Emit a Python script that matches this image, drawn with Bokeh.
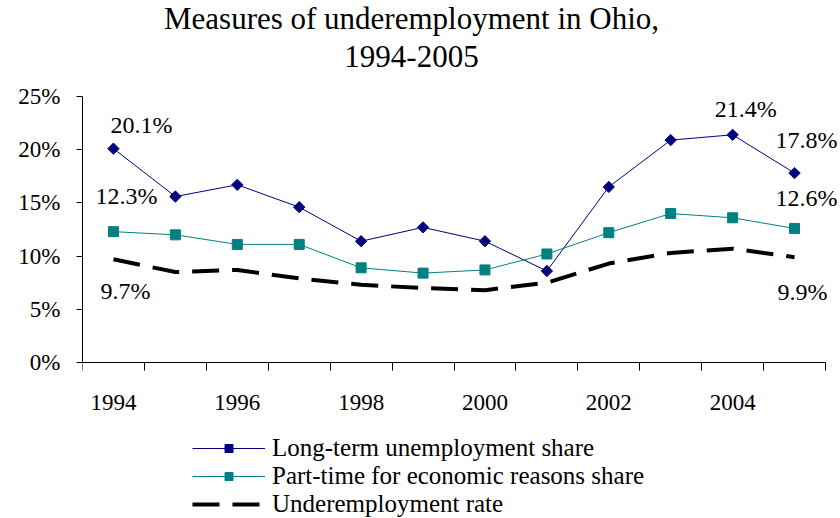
import math
from bokeh.plotting import figure
from bokeh.models import (Range1d, FixedTicker, Label, Legend, LegendItem,
                          ColumnDataSource)
from bokeh.core.properties import value
from bokeh.embed import file_html
from bokeh.resources import INLINE

# ---------------- data ----------------
years = [1994, 1995, 1996, 1997, 1998, 1999, 2000, 2001, 2002, 2003, 2004, 2005]
long_term = [20.1, 15.6, 16.7, 14.6, 11.4, 12.7, 11.4, 8.6, 16.5, 20.9, 21.4, 17.8]
part_time = [12.3, 12.0, 11.1, 11.1, 8.9, 8.4, 8.7, 10.2, 12.2, 14.0, 13.6, 12.6]
underemp = [9.7, 8.5, 8.7, 7.9, 7.3, 7.0, 6.8, 7.5, 9.3, 10.3, 10.7, 9.9]

series_names = ["Long-term unemployment share",
                "Part-time for economic reasons share",
                "Underemployment rate"]
y_ticks = [0, 5, 10, 15, 20, 25]
y_tick_labels = ["0%", "5%", "10%", "15%", "20%", "25%"]
x_label_years = [1994, 1996, 1998, 2000, 2002, 2004]
x_boundaries = [y - 0.5 for y in years] + [years[-1] + 0.5]

title_lines = ["Measures of underemployment in Ohio,", "1994-2005"]

# which points carry a value label (series key, year)
label_points = [("long", 1994), ("part", 1994), ("under", 1994),
                ("long", 2004), ("long", 2005), ("part", 2005), ("under", 2005)]
# styling: pixel offsets of each value label from its point
label_dx = [28, 13, 12, 13, 12, 12, 8]
label_dy = [-24, -36, 32, -26, -33, -30, 35]

FONT = "Liberation Serif"
NAVY = "#000080"
TEAL = "#008080"

# ---------------- layout geometry (pixels) ----------------
W, H = 840, 518
LEFT = 82            # y axis position
AX_RIGHT = 825       # end of x axis
AX_TOP = 96          # top of y axis (25%)
AX_BOTTOM = 362      # x axis (0%)

X_AXIS_SPAN = (years[0] - 0.5, years[-1] + 0.5)
Y_AXIS_SPAN = (y_ticks[0], y_ticks[-1])
px_per_year = (AX_RIGHT - LEFT) / (X_AXIS_SPAN[1] - X_AXIS_SPAN[0])
px_per_unit = (AX_BOTTOM - AX_TOP) / (Y_AXIS_SPAN[1] - Y_AXIS_SPAN[0])
x_end = X_AXIS_SPAN[1] + (W - AX_RIGHT) / px_per_year
y_start = -(H - AX_BOTTOM) / px_per_unit
y_end = AX_BOTTOM / px_per_unit

p = figure(width=W, height=H, output_backend="svg", toolbar_location=None,
           x_range=Range1d(X_AXIS_SPAN[0], x_end),
           y_range=Range1d(y_start, y_end),
           min_border_left=LEFT, min_border_right=0, min_border_top=0,
           min_border_bottom=0)
p.outline_line_color = None
p.xgrid.visible = False
p.ygrid.visible = False
p.background_fill_color = "white"
p.border_fill_color = "white"

# ---------------- series ----------------
r_long_l = p.line(years, long_term, line_color=NAVY, line_width=1)
r_long_m = p.scatter(years, long_term, marker="square", angle=math.pi / 4,
                     size=8, fill_color=NAVY, line_color=NAVY)
r_part_l = p.line(years, part_time, line_color=TEAL, line_width=1)
r_part_m = p.scatter(years, part_time, marker="square", size=10,
                     fill_color=TEAL, line_color=TEAL)
r_under = p.line(years, underemp, line_color="black", line_width=4,
                 line_dash="27 13")

# ---------------- value labels ----------------
lookup = {"long": long_term, "part": part_time, "under": underemp}
lx, ly, lt = [], [], []
for key, yr in label_points:
    v = lookup[key][years.index(yr)]
    lx.append(yr)
    ly.append(v)
    lt.append(f"{v:.1f}%")
src = ColumnDataSource(dict(x=lx, y=ly, t=lt, dx=label_dx, dy=label_dy))
p.text(x="x", y="y", text="t", x_offset="dx", y_offset="dy", source=src,
       text_align="center", text_baseline="middle",
       text_font=value(FONT), text_font_size="24px", text_color="black")

# ---------------- axes ----------------
ya = p.yaxis[0]
ya.bounds = Y_AXIS_SPAN
ya.ticker = FixedTicker(ticks=y_ticks)
ya.major_label_overrides = {t: l for t, l in zip(y_ticks, y_tick_labels)}
ya.major_tick_out = 6
ya.major_tick_in = 0
ya.minor_tick_line_color = None
ya.major_label_standoff = 16
ya.major_label_text_font = FONT
ya.major_label_text_font_size = "23px"
ya.major_label_text_color = "black"
ya.axis_line_color = "black"
ya.major_tick_line_color = "black"

xa = p.xaxis[0]
xa.fixed_location = 0
xa.bounds = X_AXIS_SPAN
xa.ticker = FixedTicker(ticks=x_label_years, minor_ticks=x_boundaries)
xa.major_label_overrides = {y: str(y) for y in x_label_years}
xa.major_tick_out = 0
xa.major_tick_in = 0
xa.minor_tick_out = 8
xa.minor_tick_in = 0
xa.minor_tick_line_color = "black"
xa.major_label_standoff = 24
xa.major_label_text_font = FONT
xa.major_label_text_font_size = "23px"
xa.major_label_text_color = "black"
xa.axis_line_color = "black"

# ---------------- title ----------------
for txt, yy in zip(title_lines, [H - 18, H - 56]):
    p.add_layout(Label(x=411 - LEFT, y=yy, x_units="screen", y_units="screen",
                       text=txt, text_align="center",
                       text_baseline="alphabetic", text_font=FONT,
                       text_font_size="31px", text_color="black"))

# ---------------- legend ----------------
legend = Legend(items=[
    LegendItem(label=series_names[0], renderers=[r_long_l, r_long_m]),
    LegendItem(label=series_names[1], renderers=[r_part_l, r_part_m]),
    LegendItem(label=series_names[2], renderers=[r_under]),
], location=(110, 0), orientation="vertical", border_line_color=None,
    background_fill_alpha=0, padding=0, margin=0, spacing=-4,
    glyph_width=73, glyph_height=20, label_height=20, label_standoff=7,
    label_text_font=FONT, label_text_font_size="25px",
    label_text_color="black")
p.add_layout(legend, "center")

open("out.html", "w").write(file_html(p, INLINE))
